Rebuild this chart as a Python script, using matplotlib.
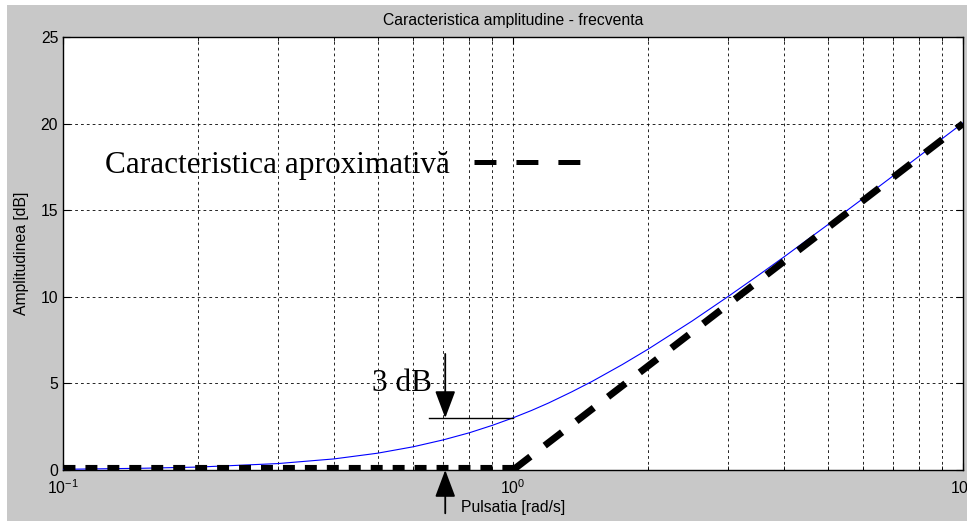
import matplotlib
matplotlib.use('Agg')
import matplotlib.pyplot as plt
from matplotlib.lines import Line2D
from matplotlib.patches import Rectangle
from matplotlib.ticker import FixedLocator, FixedFormatter, NullFormatter

plt.rcParams['font.family'] = ['Liberation Sans', 'DejaVu Sans']
plt.rcParams['mathtext.fontset'] = 'custom'
plt.rcParams['mathtext.rm'] = 'Liberation Sans'
plt.rcParams['mathtext.default'] = 'regular'
plt.rcParams['lines.scale_dashes'] = False

# pulsatia [rad/s] and amplitudinea [dB] of the real characteristic
w = [0.1, 0.15, 0.2, 0.3, 0.4, 0.5, 0.6, 0.7, 0.8, 0.9, 1.0, 1.1, 1.2, 1.35, 1.5, 1.75,
     2.0, 2.5, 3.0, 3.5, 4.0, 5.0, 6.0, 7.0, 8.0, 9.0, 10.0]
amp = [0.04, 0.10, 0.17, 0.37, 0.64, 0.97, 1.34, 1.74, 2.15, 2.58, 3.01, 3.44, 3.87, 4.51, 5.12, 6.09,
       6.99, 8.60, 10.00, 11.22, 12.30, 14.15, 15.68, 16.99, 18.13, 19.14, 20.04]

# asymptotic (approximate) characteristic: flat part and +20 dB/dec part
w_flat = [0.1, 1.0]
amp_flat = [0.0, 0.0]
w_slope = [1.0, 10.0]
amp_slope = [0.0, 20.0]

# 3 dB marker
w_cut = 0.707
amp_cut = 3.0
w_line = [0.65, 1.0]

xticks = [0.1, 1, 10]
xticklabels = ['$10^{-1}$', '$10^{0}$', '$10^{1}$']
xminor = [0.2, 0.3, 0.4, 0.5, 0.6, 0.7, 0.8, 0.9, 2, 3, 4, 5, 6, 7, 8, 9]
yticks = [0, 5, 10, 15, 20, 25]

gray = '#c8c8c8'
fig = plt.figure(figsize=(9.67, 5.21), dpi=100, facecolor='white')
fig.patches.append(Rectangle((7 / 967, 0), 1, 1 - 5 / 521, transform=fig.transFigure,
                             facecolor=gray, edgecolor='none', zorder=-10))
ax = fig.add_axes([63 / 967, 1 - 470 / 521, 900 / 967, 433 / 521])
ax.set_facecolor('white')

ax.set_xscale('log')
ax.set_xlim(0.1, 10)
ax.set_ylim(0, 25)

ax.plot(w, amp, color='#0000ff', lw=0.8, zorder=3)
ax.plot(w_flat, amp_flat, color='black', lw=8, dashes=(8.6, 7.2), solid_capstyle='butt',
        dash_capstyle='butt', zorder=4)
ax.plot(w_slope, amp_slope, color='black', lw=5, dashes=(15.8, 13), dash_capstyle='butt', zorder=4)

# 3 dB annotation
ax.plot(w_line, [amp_cut, amp_cut], color='black', lw=1, zorder=5)
ax.text(0.486, 5.0, '3 dB', family='Liberation Serif', fontsize=22.5, va='center', ha='left')
arrow = dict(arrowstyle='-|>,head_length=1.2,head_width=0.45', color='black', lw=1.3,
             mutation_scale=14, shrinkA=0, shrinkB=0)
ax.annotate('', xy=(w_cut, amp_cut), xytext=(w_cut, 6.7), arrowprops=arrow)
ax.annotate('', xy=(w_cut, 0), xytext=(w_cut, -2.5), arrowprops=arrow, annotation_clip=False)

# legend for the approximate characteristic
proxy = Line2D([], [], color='black', lw=3.6, dashes=(15.8, 14.4), dash_capstyle='butt')
leg = ax.legend([proxy], ['Caracteristica aproximativă'], loc='center left',
                bbox_to_anchor=(0.047, 0.704), frameon=False, markerfirst=False,
                handlelength=3.4, handletextpad=0.75, borderpad=0, borderaxespad=0,
                prop={'family': 'Liberation Serif', 'size': 22.5})

ax.xaxis.set_major_locator(FixedLocator(xticks))
ax.xaxis.set_major_formatter(FixedFormatter(xticklabels))
ax.xaxis.set_minor_locator(FixedLocator(xminor))
ax.xaxis.set_minor_formatter(NullFormatter())
ax.set_yticks(yticks)

grid = dict(color='black', lw=0.6, dashes=(2, 2.2))
ax.grid(True, which='major', axis='both', **grid)
ax.grid(True, which='minor', axis='x', **grid)
ax.tick_params(which='both', direction='in', top=True, right=True, labelsize=11.3, colors='black')
ax.tick_params(which='major', length=5)
ax.tick_params(which='minor', length=3)
ax.tick_params(axis='x', pad=6)
for s in ax.spines.values():
    s.set_linewidth(1)

ax.set_title('Caracteristica amplitudine - frecventa', fontsize=11.3, pad=9)
ax.set_xlabel('Pulsatia [rad/s]', fontsize=11.3, labelpad=2)
ax.set_ylabel('Amplitudinea [dB]', fontsize=11.3, labelpad=8)

fig.savefig('out.png', dpi=100, facecolor=fig.get_facecolor())
